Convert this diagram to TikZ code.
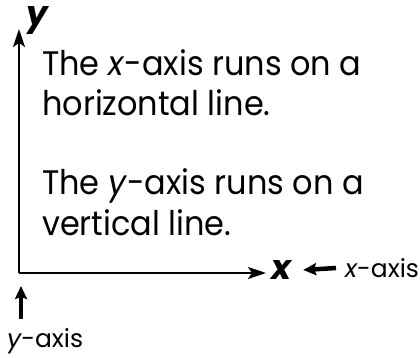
\documentclass[tikz,border=0pt]{standalone}
\usepackage{fontspec}
\setmainfont{Poppins}
\newfontfamily\bodyfont[FakeStretch=0.94]{Poppins}
\usetikzlibrary{arrows.meta}
\begin{document}
\begin{tikzpicture}[x=1pt,y=-1pt,
  axis/.style={line width=2.3pt,-{Stealth[length=18pt,width=12pt,inset=4pt]}},
  pointer/.style={line width=4.5pt,-{Stealth[length=13pt,width=12pt,inset=2pt]}},
  body/.style={font=\bodyfont\fontsize{34}{40}\selectfont,anchor=base west,inner sep=0pt},
  small/.style={font=\fontsize{25}{30}\selectfont,inner sep=0pt},
  axlab/.style={font=\fontsize{34}{34}\selectfont\bfseries\itshape,inner sep=0pt}]
\useasboundingbox (0,0) rectangle (420,358);
\coordinate (o) at (19,273);
\coordinate (ytip) at (19,29);
\coordinate (xtip) at (266,273);
\draw[axis] (o) -- (ytip);
\draw[axis] (o) -- (xtip);
\node[axlab] (ylab) at (37,21) {y};
\node[axlab] (xlab) at (281,270) {x};
\node[small,anchor=west] (xaxis) at (345,268) {\itshape x\upshape-axis};
\draw[pointer] ([xshift=-9pt]xaxis.west) -- ([xshift=12pt]xlab.east);
\node[small,anchor=base west] (yaxis) at (7,347) {\itshape y\upshape-axis};
\coordinate (ytail) at (21,319);
\coordinate (yhead) at (21,286);
\draw[pointer] (ytail) -- (yhead);
\node[body] (l1) at (42,76) {The \textit{x}-axis runs on a};
\node[body] (l2) at (42,116) {horizontal line.};
\node[body] (l3) at (42,195) {The \textit{y}-axis runs on a};
\node[body] (l4) at (42,235) {vertical line.};
\end{tikzpicture}
\end{document}
